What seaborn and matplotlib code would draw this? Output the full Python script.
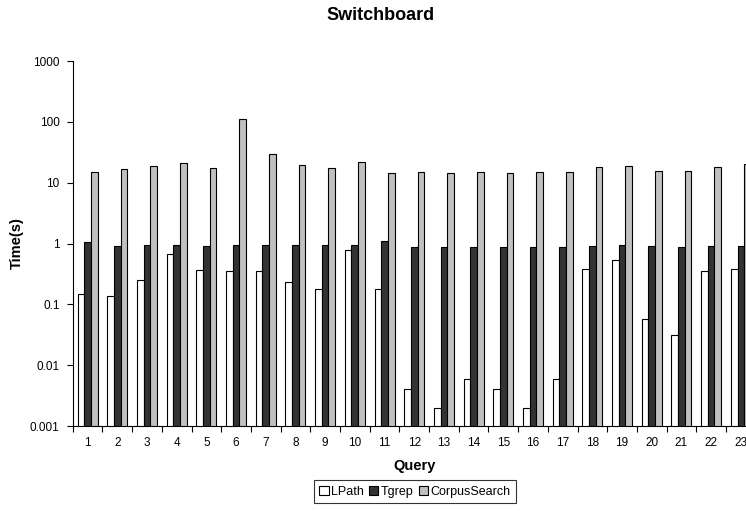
import matplotlib
matplotlib.use("Agg")
import matplotlib.pyplot as plt
import numpy as np
import pandas as pd
import seaborn as sns
from matplotlib.ticker import FixedLocator, NullFormatter, NullLocator, FuncFormatter

queries = [str(i) for i in range(1, 24)]
lpath = [0.146, 0.137, 0.254, 0.67, 0.37, 0.36, 0.35, 0.235, 0.18, 0.77, 0.177, 0.0041,
         0.002, 0.006, 0.004, 0.002, 0.006, 0.376, 0.53, 0.057, 0.031, 0.36, 0.376]
tgrep = [1.05, 0.91, 0.95, 0.95, 0.91, 0.94, 0.93, 0.93, 0.95, 0.93, 1.11, 0.89,
         0.89, 0.88, 0.89, 0.89, 0.89, 0.91, 0.94, 0.91, 0.89, 0.91, 0.91]
corpussearch = [14.8, 16.6, 19.0, 21.0, 17.5, 112.0, 30.0, 19.3, 17.6, 21.8, 14.6, 15.0,
                14.6, 15.0, 14.6, 14.8, 15.0, 18.0, 19.0, 15.4, 15.5, 17.8, 20.0]
systems = ["LPath", "Tgrep", "CorpusSearch"]
colors = ["#ffffff", "#333333", "#c0c0c0"]

df = pd.DataFrame({
    "Query": queries * 3,
    "System": [s for s in systems for _ in queries],
    "Time": lpath + tgrep + corpussearch,
})

plt.rcParams["font.family"] = ["Liberation Sans", "DejaVu Sans"]

fig = plt.figure(figsize=(7.46, 5.11), dpi=100)
ax = fig.add_axes([0.0975, 0.1663, 1.013 - 0.0975, 0.8806 - 0.1663])

sns.barplot(data=df, x="Query", y="Time", hue="System", hue_order=systems,
            palette=colors, width=0.675, edgecolor="black", linewidth=0.8,
            ax=ax, legend=True)

ax.set_yscale("log")
ax.set_ylim(0.001, 1000)
ax.yaxis.set_major_locator(FixedLocator([0.001, 0.01, 0.1, 1, 10, 100, 1000]))
ax.yaxis.set_minor_locator(NullLocator())
ax.yaxis.set_major_formatter(FuncFormatter(lambda v, p: f"{v:g}"))

n = len(queries)
ax.set_xlim(-0.5, n - 0.5)
ax.xaxis.set_major_locator(FixedLocator(np.arange(n + 1) - 0.5))
ax.xaxis.set_major_formatter(NullFormatter())
ax.set_xticks(np.arange(n), labels=queries, minor=True)
ax.tick_params(axis="x", which="minor", length=0, labelsize=8.5, pad=8)
ax.tick_params(axis="x", which="major", length=4, width=0.8, direction="out")
ax.tick_params(axis="y", which="major", length=4, width=0.8, labelsize=8.5, pad=5.5)

for side in ["top", "right"]:
    ax.spines[side].set_visible(False)
for side in ["left", "bottom"]:
    ax.spines[side].set_linewidth(0.8)
ax.set_facecolor("white")

ax.set_xlabel("Query", fontsize=10.5, fontweight="bold", labelpad=7)
ax.set_ylabel("Time(s)", fontsize=10.5, fontweight="bold", labelpad=4)
fig.text(381 / 746, 1 - 15 / 511, "Switchboard", ha="center", va="center",
         fontsize=13, fontweight="bold")

handles, labels = ax.get_legend_handles_labels()
ax.legend_.remove()
leg = fig.legend(handles, labels, loc="center", bbox_to_anchor=(415 / 746, 1 - 491.5 / 511),
                 ncol=3, fontsize=9, frameon=True, fancybox=False, edgecolor="black",
                 handlelength=0.75, handleheight=0.75, handletextpad=0.2,
                 columnspacing=0.4, borderpad=0.45, borderaxespad=0)
leg.get_frame().set_linewidth(0.8)

fig.savefig("out.png", dpi=100)
